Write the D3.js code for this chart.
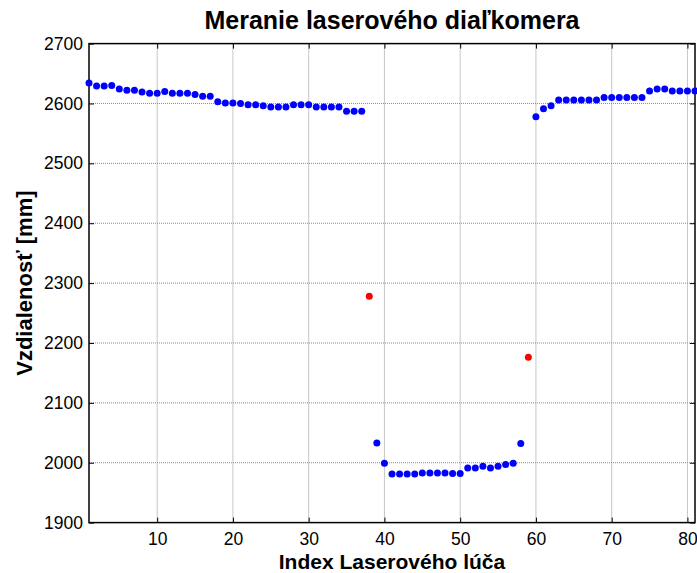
<!DOCTYPE html>
<html>
<head>
<meta charset="utf-8">
<script src="https://cdn.jsdelivr.net/npm/d3@7"></script>
<style>
  html, body { margin: 0; padding: 0; background: #fff; }
  svg { display: block; font-family: "Liberation Sans", Arial, sans-serif; }
</style>
</head>
<body>
<svg id="chart" width="697" height="573"></svg>
<script>
// Laser beam index (1..81) and measured distance in mm
const beamIndex = d3.range(1, 82);
const distance = [
  2634, 2629, 2629, 2630, 2624, 2622, 2622, 2619, 2617, 2617,
  2620, 2617, 2617, 2617, 2615, 2612, 2612, 2603, 2601, 2601,
  2600, 2598, 2598, 2596, 2594, 2594, 2594, 2598, 2598, 2598,
  2594, 2594, 2594, 2594, 2587, 2587, 2587, 2278, 2033, 1999,
  1981, 1981, 1981, 1981, 1983, 1983, 1983, 1983, 1982, 1982,
  1991, 1991, 1994, 1991, 1994, 1997, 1999, 2032, 2176, 2578,
  2591, 2596, 2606, 2606, 2606, 2606, 2606, 2606, 2610, 2610,
  2610, 2610, 2610, 2610, 2621, 2624, 2624, 2621, 2621, 2621,
  2621
];
// Beams flagged as edge transitions (drawn in red)
const flaggedBeams = [38, 59];

const xTicks = [10, 20, 30, 40, 50, 60, 70, 80];
const yTicks = [1900, 2000, 2100, 2200, 2300, 2400, 2500, 2600, 2700];

const titleText = "Meranie laserového diaľkomera";
const xLabelText = "Index Laserového lúča";
const yLabelText = "Vzdialenosť [mm]";

const margin = { left: 89, right: 2, top: 43.6, bottom: 50.4 };
const W = 697, H = 573;
const plotW = W - margin.left - margin.right;
const plotH = H - margin.top - margin.bottom;

const svg = d3.select("#chart");
const g = svg.append("g").attr("transform", `translate(${margin.left},${margin.top})`);

const x = d3.scaleLinear().domain([1, 81]).range([0, plotW]);
const y = d3.scaleLinear().domain([1900, 2700]).range([plotH, 0]);

// dotted grid
g.append("g").selectAll("line").data(xTicks).join("line")
  .attr("x1", d => x(d)).attr("x2", d => x(d))
  .attr("y1", 0).attr("y2", plotH)
  .attr("stroke", "#8c8c8c").attr("stroke-width", 1).attr("stroke-dasharray", "1,1");
g.append("g").selectAll("line").data(yTicks.slice(1, -1)).join("line")
  .attr("y1", d => y(d)).attr("y2", d => y(d))
  .attr("x1", 0).attr("x2", plotW)
  .attr("stroke", "#8c8c8c").attr("stroke-width", 1).attr("stroke-dasharray", "1,1");

// axes with inward ticks
const fmt = d3.format("d");
const xAxis = d3.axisBottom(x).tickValues(xTicks).tickFormat(fmt).tickSize(-5).tickPadding(10);
const yAxis = d3.axisLeft(y).tickValues(yTicks).tickFormat(fmt).tickSize(-5).tickPadding(6);
const xTop = d3.axisTop(x).tickValues(xTicks).tickSize(-5).tickFormat("");
const yRight = d3.axisRight(y).tickValues(yTicks).tickSize(-5).tickFormat("");

function styleAxis(sel) {
  sel.select(".domain").remove();
  sel.selectAll(".tick line").attr("stroke", "#000").attr("stroke-width", 1);
  sel.selectAll(".tick text").attr("fill", "#000").style("font-size", "17.5px");
}
g.append("g").attr("transform", `translate(0,${plotH})`).call(xAxis).call(styleAxis);
g.append("g").call(yAxis).call(styleAxis);
g.append("g").call(xTop).call(styleAxis);
g.append("g").attr("transform", `translate(${plotW},0)`).call(yRight).call(styleAxis);

// box
g.append("rect").attr("x", 0).attr("y", 0).attr("width", plotW).attr("height", plotH)
  .attr("fill", "none").attr("stroke", "#000").attr("stroke-width", 1.5);

// measurement points
const points = beamIndex.map((b, i) => ({ b, v: distance[i] }));
g.append("g").selectAll("circle").data(points).join("circle")
  .attr("cx", d => x(d.b)).attr("cy", d => y(d.v)).attr("r", 3.5)
  .attr("fill", d => flaggedBeams.includes(d.b) ? "#ff0000" : "#0000ff");

// titles
svg.append("text").attr("x", margin.left + plotW / 2).attr("y", 29)
  .attr("text-anchor", "middle").style("font-size", "25px").style("font-weight", "bold")
  .text(titleText);
svg.append("text").attr("x", margin.left + plotW / 2).attr("y", 568.5)
  .attr("text-anchor", "middle").style("font-size", "21px").style("font-weight", "bold")
  .text(xLabelText);
svg.append("text")
  .attr("transform", `translate(32,${margin.top + plotH / 2}) rotate(-90)`)
  .attr("text-anchor", "middle").style("font-size", "22px").style("font-weight", "bold")
  .text(yLabelText);
</script>
</body>
</html>
